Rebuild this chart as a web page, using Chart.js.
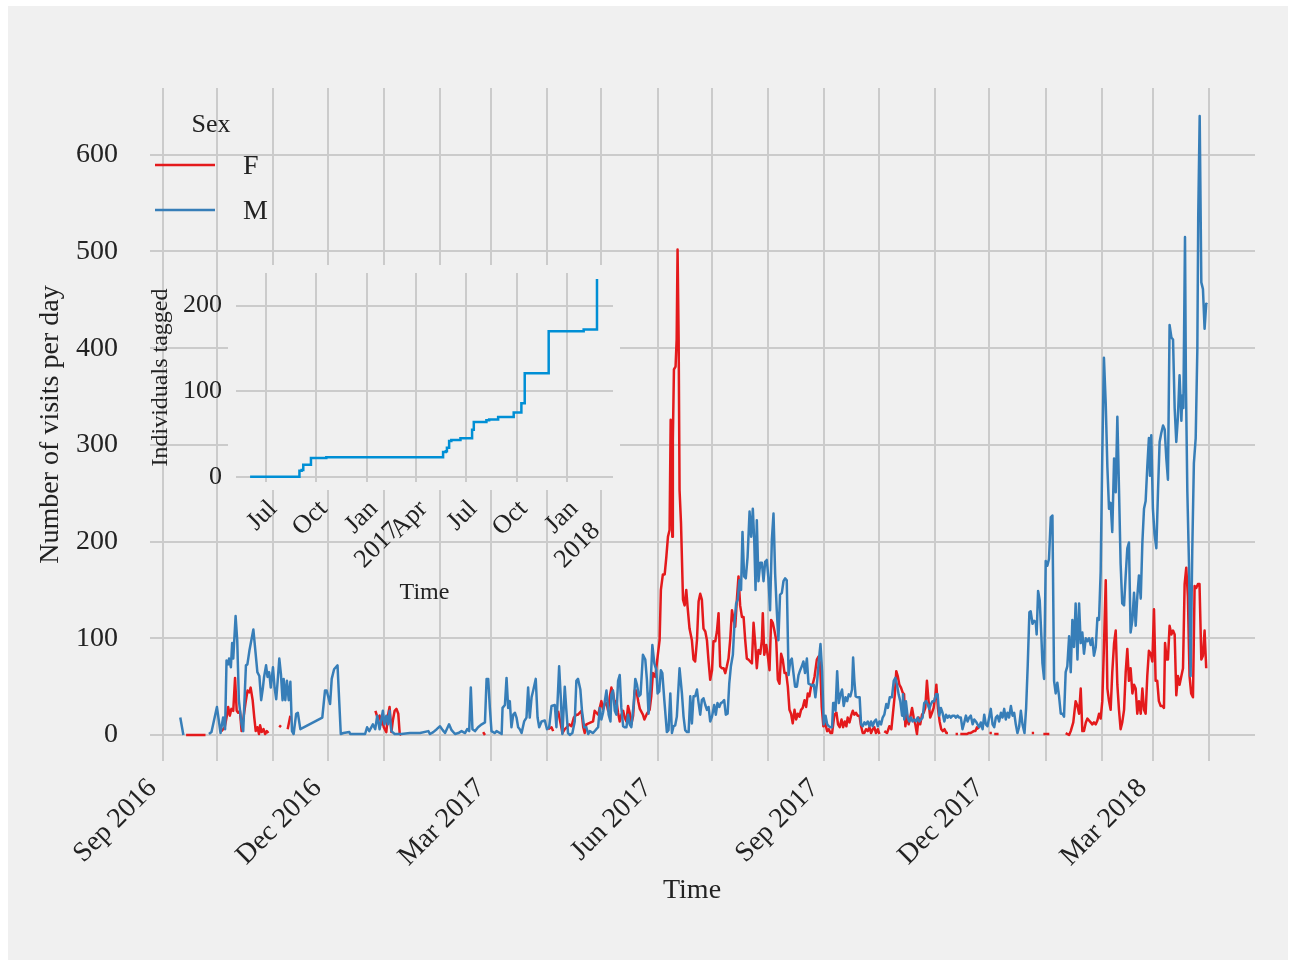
<!DOCTYPE html>
<html>
<head>
<meta charset="utf-8">
<script src="https://cdn.jsdelivr.net/npm/chart.js@4.4.1/dist/chart.umd.min.js"></script>
<style>
  html, body { margin: 0; padding: 0; background: #ffffff; }
  #frame { position: absolute; left: 8px; top: 6px; width: 1280px; height: 954px; background: #f0f0f0; }
  #mainChart { position: absolute; left: 0; top: 0; }
  #insetChart { position: absolute; left: 124px; top: 237px; }
</style>
</head>
<body>
<div id="frame">
  <canvas id="mainChart" width="1280" height="954"></canvas>
  <canvas id="insetChart" width="500" height="370"></canvas>
</div>
<script>
// x values are days since 1 Sep 2016, null = no record that day
const visitsF = [
  [13,0],[23.7,0],[28,null],[32.5,4],[34.3,8],[35.3,18],[36.2,29],[37.1,20],[38,27],[39,25],[40,59],[40.9,25],[41.7,23],[42.7,25],[43.6,4],
  [46,36],[46.9,46],[47.9,44],[48.6,49],[49.7,36],[50.6,18],[51.4,4],[52.3,8],[53.2,1],[53.8,10],[54.7,3],[55.7,6],[56.6,1],[57.5,4],[58.4,2],
  [61,null],[64.4,8],[65.3,10],[67,null],[69,6],[70.5,20],[90,null],
  [117.4,25],[118.7,17],[119.7,20],[120.6,11],[121,18],[122,8],[123.4,3],[124.3,20],[125.2,29],[126.2,3],[127,15],[128,25],[129,27],[130,22],[130.8,1],[131.7,0],
  [150,null],[176.8,3],[177.8,0],[190,null],[212.6,6],[214.5,8],[215.4,4],[217,null],
  [218.1,25],[219.4,13],[220.5,2],[221.8,6],[223,8],[224.3,11],[225.5,9],[226.8,18],[228.2,21],[229.1,21],[230,23],[231,25],[232,8],[232.8,2],[233.7,11],
  [237.4,14],[238.3,25],[239.2,23],[240.2,21],[241.1,28],[242,35],[242.9,27],[243.8,32],[244.8,33],[245.7,25],[246.6,39],[247.5,49],[248.4,44],[249.4,32],
  [250.3,35],[251.2,23],[252.1,14],[253,21],[254,25],[254.8,18],[255.8,14],[256.7,30],[257.6,23],[258.5,11],[259.5,20],[260.4,46],[261.3,46],[262.3,35],
  [263.2,27],[264.9,21],[265.7,16],[267.1,22],[268.6,26],[269.5,40],[270.4,64],[271.7,60],[273,81],[274.1,98],[274.8,150],[275.9,166],[276.9,166],
  [277.8,184],[278.7,205],[279.6,212],[280.2,326],[280.7,257],[281.1,205],[281.4,305],[282,378],[282.9,381],[283.5,409],[284,502],[284.6,409],
  [285.1,253],[285.9,219],[287,140],[287.9,134],[288.8,150],[289.5,133],[290.6,110],[291.9,98],[292.8,78],[293.7,76],[294.7,98],[295.6,138],
  [296.5,146],[297.4,140],[298.3,110],[299.3,107],[300.2,98],[301.1,76],[302,57],[303,67],[303.8,97],[304.8,97],[305.7,107],[306.6,126],[307.5,71],
  [308.4,69],[309.4,69],[310.3,64],[311.2,71],[312.1,79],[313,98],[314,129],[314.9,119],[315.8,112],[316.7,140],[317.6,164],[318.5,134],[319.5,122],
  [320.4,122],[321.3,98],[322.2,79],[323.1,78],[324,76],[325,74],[325.9,116],[326.8,95],[327.7,69],[328.6,88],[329.6,84],[330.5,98],[331,126],
  [331.8,83],[332.9,93],[333.8,81],[334.7,67],[335.6,119],[336.5,116],[337.5,107],[338.4,98],[339.3,57],[340.2,53],[341.1,84],[342,78],[343,64],
  [343.9,64],[344.8,50],[345.7,26],[346.6,22],[347.5,12],[348.5,26],[349.4,16],[350.3,22],[351.2,19],[352.1,26],[353,28],[354,36],[354.9,29],
  [355.8,43],[356.7,40],[357.6,50],[358.6,53],[359.5,60],[360.8,78],[361.7,81],[362.6,74],[363.5,29],[364.4,9],[365.4,12],[366.5,4],[367.4,6],
  [368.3,2],[369.2,2],[370.5,21],[371.6,23],[372.5,11],[373.4,8],[374.4,16],[375.3,8],[376.2,14],[377.1,9],[377.8,18],[378.8,13],[379.7,20],
  [380.6,25],[381.5,21],[382.4,23],[383.3,20],[384.3,20],[385.2,9],[386.1,2],[387,2],[387.9,6],[388.9,4],[389.8,8],[390.7,2],[391.6,6],[392.5,8],
  [393.4,2],[394.4,6],[395.3,1],[396.5,null],[398,4],[399.5,2],[400.8,9],[401.9,6],[402.8,23],[403.8,42],[404.6,66],[405.4,61],[406.3,52],[407.2,49],
  [408.1,44],[408.9,42],[409.6,9],[410.5,21],[411.4,11],[412.3,18],[413.3,28],[414.2,18],[415.1,11],[416,1],[416.9,18],[417.8,11],[418.8,21],
  [419.7,23],[420.6,28],[421.5,56],[422.4,35],[423.3,18],[424.3,23],[425.2,28],[426.1,40],[426.7,52],[427.6,27],[428.5,14],[429.4,6],[430.3,4],
  [431.2,6],[432.2,2],[433.1,2],[435,null],[437.3,1],[438.6,1],[439.2,null],[439.9,1],[442.7,1],[443.6,1],[444.5,2],[445.4,2],[446.4,3],[447.3,4],
  [448.2,4],[449.1,8],[450,6],[452,null],[456,2],[457.3,2],[458,null],[458.6,1],[461,1],[470,null],[479.3,2],[480.6,2],[483,null],[485.7,1],[489,1],
  [493,null],[498,2],[499.9,0],[500.8,4],[502.2,13],[503.5,35],[504.5,30],[505.4,22],[506.3,48],[507.2,4],[508.1,4],[509.1,13],[510,17],[510.9,15],
  [511.8,13],[512.7,11],[513.6,13],[514.6,11],[515.5,15],[516.4,22],[517.3,17],[518.2,35],[519.1,91],[520.1,160],[521,48],[521.9,35],[522.8,26],
  [523.7,65],[524.7,95],[525.6,108],[526.5,52],[527.4,26],[528.3,6],[529.2,13],[530.2,26],[531.1,65],[532,89],[532.9,56],[533.8,69],[534.8,43],
  [535.7,52],[536.6,48],[537.5,22],[538.4,35],[539.4,22],[540.3,48],[541.2,26],[542.1,22],[543,61],[543.9,87],[544.9,84],[545.8,76],[546.7,130],
  [547.6,56],[548.5,56],[549.4,35],[550.4,30],[551.3,30],[552.2,28],[552.8,95],[553.7,78],[554.4,78],[555.3,113],[556.3,104],[557.2,108],[558.1,104],
  [559,41],[559.9,61],[560.8,52],[561.8,61],[562.7,69],[563.6,156],[564.5,173],[565.4,143],[566.3,61],[567.2,43],[568.2,39],[569.1,154],[570,152],
  [570.9,156],[571.8,156],[572.8,78],[573.7,82],[574.6,108],[575.5,69]
];

const visitsM = [
  [9.8,18],[11.5,0],[18,null],[25.6,1],[27,3],[30,29],[32,2],[33.4,18],[34.5,6],[35.3,77],[36.2,73],[36.7,79],[37.7,70],[38.4,95],[39,79],[40.3,123],
  [41.2,98],[42.1,36],[43.6,11],[44.5,4],[46,72],[46.8,73],[47.9,87],[50.1,109],[51,91],[52.3,65],[53.4,61],[54.4,36],[55.3,48],[56,60],[57.1,72],
  [57.9,60],[58.8,65],[59.7,49],[60.9,70],[61.8,49],[62.7,37],[63.5,56],[64.4,79],[65.3,63],[66.2,36],[66.8,58],[67.7,36],[68.6,56],[69.6,36],
  [70.5,55],[71.4,4],[72.3,1],[73.7,22],[74.6,23],[76,6],[88.1,18],[89.6,46],[90.5,46],[92.4,32],[93.3,58],[94.6,68],[96.5,72],[98.3,1],[99.8,2],
  [103,3],[103.5,1],[111.7,1],[112.8,8],[114,4],[116,11],[117.3,6],[118.4,20],[119.7,6],[120.6,15],[121.5,25],[122.4,11],[123.4,20],[124.3,11],
  [125.2,25],[126.2,4],[128,1],[131.7,1],[136.4,2],[142,2],[146.6,4],[147.5,1],[149.3,3],[151.2,6],[153,9],[154.5,5],[155.8,2],[158,11],[159.4,5],
  [161.3,1],[163.1,2],[164.9,4],[166.8,2],[168,6],[169.1,4],[170,49],[170.9,6],[172.3,4],[174,8],[176,11],[177.8,13],[178.7,58],[179.6,58],[180.5,28],
  [181.4,4],[183.3,2],[184.2,4],[187,1],[187.5,28],[188.8,31],[189.7,59],[190.6,28],[191.5,35],[192.4,8],[193.4,21],[194.3,23],[195.2,18],[196.1,8],
  [197,6],[198,2],[199.4,14],[200.7,18],[201.6,49],[202.5,18],[203.5,39],[204.4,46],[205.8,58],[206.8,18],[207.7,8],[209,14],[210.8,15],[212,6],
  [213.2,8],[214.5,30],[216.3,31],[217.2,8],[218.7,71],[219.6,39],[220.5,1],[221.8,50],[222.7,25],[223.6,2],[224.6,0],[226,2],[227.3,14],[228.2,56],
  [229.1,58],[230.4,47],[231.3,25],[232.5,8],[233.7,8],[234.7,1],[235.6,4],[237.4,2],[239.2,6],[240.2,8],[241.1,28],[242,16],[242.9,23],[244.8,46],
  [246,21],[247,14],[247.5,42],[248.4,46],[249.4,25],[250.3,21],[251.2,56],[252.1,62],[253,28],[254,9],[254.8,8],[255.8,8],[256.7,21],[257.6,11],
  [258.5,8],[259.8,32],[260.7,58],[261.6,52],[262.7,40],[263.6,42],[264.9,83],[266.2,78],[267.1,57],[268,22],[269,47],[270.1,93],[271.2,74],
  [272.3,67],[273,43],[273.9,45],[274.8,67],[275.6,64],[276.7,36],[278.1,3],[279,5],[280,43],[280.9,2],[281.8,9],[282.7,10],[283.6,19],[285.1,69],
  [286.4,43],[287.3,19],[288.2,5],[289.2,3],[290.1,3],[291,40],[291.9,12],[292.8,40],[293.7,40],[294.7,47],[295.6,33],[296.5,21],[297.4,36],
  [298.3,38],[299.3,31],[300.2,26],[301.1,29],[302,14],[303,19],[304.2,31],[305.1,21],[306,33],[307,29],[307.9,33],[308.8,34],[309.7,36],[310.6,21],
  [311.6,22],[312.5,53],[313.4,71],[314.5,83],[315.4,116],[316.3,136],[317.2,140],[318.1,160],[319,150],[319.8,210],[320.7,164],[321.6,162],
  [322.6,184],[323.7,231],[324.6,205],[325.5,234],[326.3,200],[327,150],[327.7,222],[328.6,159],[329.6,178],[330.5,178],[331.4,159],[332.3,179],
  [333.2,181],[334.1,162],[335,129],[336,202],[336.9,229],[337.8,167],[338.7,129],[339.6,98],[340.5,145],[341.5,147],[342.4,159],[343.3,162],
  [344.2,160],[345.2,62],[346.1,76],[347,79],[347.9,64],[348.8,50],[349.8,50],[350.7,62],[351.6,67],[352.5,71],[353.4,76],[354.3,64],[355.3,79],
  [356.2,53],[357.3,52],[358.2,51],[359.1,52],[360,39],[361,56],[361.9,77],[362.8,94],[363.7,66],[364.6,11],[365.6,20],[366.5,11],[367.4,9],
  [368.3,8],[369.2,8],[369.8,33],[370.5,33],[371.1,25],[372,66],[372.9,33],[373.8,42],[374.7,47],[375.6,30],[376.6,39],[377.5,35],[378.4,42],
  [379.3,40],[380.2,47],[380.8,80],[381.5,56],[382.2,40],[383.3,39],[384.4,39],[385.2,11],[386.1,9],[387,13],[387.9,11],[388.9,14],[389.8,9],
  [390.7,14],[391.6,9],[392.5,14],[393.4,16],[394.4,9],[395.3,14],[396.2,11],[397.1,18],[398,21],[399.1,32],[400,28],[401,39],[402.2,39],[403.2,56],
  [404.1,59],[405,52],[405.9,42],[406.8,35],[407.8,20],[408.3,42],[409,16],[409.9,35],[410.9,18],[411.8,14],[412.7,18],[413.6,14],[414.5,16],
  [415.5,14],[416.4,18],[417.3,14],[418.2,16],[419.1,18],[420,33],[421,35],[421.9,32],[422.8,27],[423.7,32],[424.6,35],[425.5,35],[426.5,42],
  [427.4,42],[428.3,20],[429.2,28],[430.1,23],[431.1,14],[432,21],[432.9,18],[433.8,20],[434.7,18],[435.6,20],[436.6,20],[437.5,18],[438.4,20],
  [439.3,18],[440.2,18],[441.1,6],[442.1,13],[443,20],[443.9,14],[444.8,18],[445.7,20],[446.7,11],[447.6,16],[448.5,14],[449.4,11],[450.3,8],
  [451.2,13],[452.2,6],[453.1,21],[454,11],[454.9,9],[455.8,18],[456.7,27],[457.7,11],[458.6,8],[459.5,18],[460.4,20],[461.3,14],[462.3,23],
  [463.2,18],[464.1,27],[465,16],[465.9,23],[466.8,18],[467.8,30],[468.7,20],[469.6,23],[470.5,11],[471.4,2],[472.3,8],[473.3,25],[474.2,11],
  [475.3,2],[476.2,28],[477.1,73],[478,127],[478.7,128],[479.7,115],[480.6,118],[481.5,117],[482,104],[482.8,149],[483.7,139],[484.6,102],[485.2,74],
  [486.1,58],[487,180],[487.9,175],[488.8,182],[489.8,225],[490.7,227],[491.6,56],[492.5,43],[493.4,54],[494.3,41],[495.3,22],[496.2,22],[497.1,19],
  [498,65],[498.9,71],[499.9,102],[500.8,65],[501.7,119],[502.6,91],[503.5,136],[504.5,78],[505.4,136],[506.3,95],[507.2,106],[508.1,84],[509.1,100],
  [510,97],[510.9,100],[511.8,93],[512.7,100],[513.6,82],[514.6,91],[515.5,121],[516.4,119],[517.3,169],[518.2,290],[519.1,390],[520.1,342],
  [521,277],[521.9,234],[522.8,240],[523.7,210],[524.7,286],[525.6,251],[526.5,329],[527.4,255],[528.3,177],[529.2,136],[530.2,134],[531.1,165],
  [532,193],[532.9,199],[533.8,106],[534.8,119],[535.7,147],[536.6,113],[537.5,143],[538.4,165],[539.4,141],[540.3,199],[541.2,234],[542.1,242],
  [543,277],[543.9,307],[544.5,268],[545.2,310],[546.1,234],[547,208],[548,193],[548.9,251],[549.8,303],[550.7,312],[551.7,320],[552.6,316],
  [553.5,286],[554.4,264],[555.3,424],[556.3,411],[557.2,409],[558.1,338],[559,303],[559.9,329],[560.8,372],[561.8,325],[562.3,351],[562.9,338],
  [563.8,515],[564.3,364],[565.1,251],[566,177],[566.9,61],[567.8,190],[568.7,281],[569.7,307],[570.6,398],[571.1,537],[571.9,640],[572.8,468],
  [573.7,461],[574.6,420],[575.5,446],[576.1,445]
];

// cumulative number of tagged birds, step changes (days since 1 Sep 2016)
const taggedSteps = [
  [-91,0],[-1,7],[3,8],[6,14],[20,22],[48,23],[258,23],[261,29],[266,30],[268,34],[272,42],[276,43],[292.7,45],
  [313.9,55],[317,64],[340,66],[345,67],[361.4,70],[389.8,75],[403.8,86],[409.9,121],[453.6,170],[517.4,172],[541.7,231]
];

const visitTicks = [0, 100, 200, 300, 400, 500, 600];
const taggedTicks = [0, 100, 200];
const mainMonths = ['2016-09','2016-10','2016-11','2016-12','2017-01','2017-02','2017-03','2017-04','2017-05','2017-06',
                    '2017-07','2017-08','2017-09','2017-10','2017-11','2017-12','2018-01','2018-02','2018-03','2018-04'];
const mainMonthLabels = ['Sep 2016','','','Dec 2016','','','Mar 2017','','','Jun 2017',
                         '','','Sep 2017','','','Dec 2017','','','Mar 2018',''];
const insetMonths = ['2016-07','2016-10','2017-01','2017-04','2017-07','2017-10','2018-01'];
const insetMonthLabels = ['Jul', 'Oct', ['Jan', '2017'], 'Apr', 'Jul', 'Oct', ['Jan', '2018']];

const FONT = "'Liberation Serif', 'Times New Roman', serif";
const INK = '#222222';
const GRID = '#cbcbcb';
const COLOR_F = '#e41a1c';
const COLOR_M = '#377eb8';

Chart.defaults.font.family = FONT;
Chart.defaults.color = INK;

function dayOf(ym) {
    const [y, m] = ym.split('-').map(Number);
    return (Date.UTC(y, m - 1, 1) - Date.UTC(2016, 8, 1)) / 864e5;
}
const toPoints = rows => rows.map(r => ({ x: r[0], y: r[1] }));

// legend in the top left corner of the plot, like the matplotlib one
const sexLegend = {
    id: 'sexLegend',
    afterDraw(chart) {
        const ctx = chart.ctx;
        ctx.save();
        ctx.fillStyle = INK;
        ctx.textBaseline = 'middle';
        ctx.textAlign = 'center';
        ctx.font = '26px ' + FONT;
        ctx.fillText('Sex', 203, 119);
        ctx.textAlign = 'left';
        ctx.font = '28px ' + FONT;
        chart.data.datasets.forEach((ds, i) => {
            const y = 159 + i * 45;
            ctx.strokeStyle = ds.borderColor;
            ctx.lineWidth = 2.5;
            ctx.beginPath();
            ctx.moveTo(147, y);
            ctx.lineTo(207, y);
            ctx.stroke();
            ctx.fillText(ds.label, 235, y + 2);
        });
        ctx.restore();
    }
};

// inset axes background hides the main grid behind it
const insetBackground = {
    id: 'insetBackground',
    beforeDraw(chart) {
        const a = chart.chartArea;
        const ctx = chart.ctx;
        ctx.save();
        ctx.fillStyle = '#f0f0f0';
        ctx.fillRect(a.left - 8, a.top - 8, a.right - a.left + 15, a.bottom - a.top + 16);
        ctx.restore();
    }
};

new Chart(document.getElementById('mainChart'), {
    type: 'line',
    data: {
        datasets: [
            { label: 'F', data: toPoints(visitsF), borderColor: COLOR_F, order: 2 },
            { label: 'M', data: toPoints(visitsM), borderColor: COLOR_M, order: 1 }
        ]
    },
    options: {
        responsive: false,
        animation: false,
        spanGaps: false,
        layout: { padding: { left: 26, top: 82, right: 33, bottom: 53 } },
        elements: {
            point: { radius: 0 },
            line: { borderWidth: 2.5, tension: 0, fill: false, borderJoinStyle: 'round' }
        },
        plugins: { legend: { display: false }, tooltip: { enabled: false } },
        scales: {
            x: {
                type: 'linear',
                min: -6.9,
                max: 602.4,
                afterBuildTicks: s => { s.ticks = mainMonths.map(m => ({ value: dayOf(m) })); },
                afterFit: s => { s.height = 146; },
                grid: { color: GRID, lineWidth: 2, drawTicks: false },
                border: { display: false },
                ticks: {
                    autoSkip: false,
                    maxRotation: 45,
                    minRotation: 45,
                    padding: 11,
                    labelOffset: -10,
                    font: { size: 28 },
                    callback: (v, i) => mainMonthLabels[i]
                },
                // trailing spaces nudge the centred title a little left, as in the original
                title: { display: true, text: 'Time   ', font: { size: 28 }, padding: 0 }
            },
            y: {
                min: -26.9,
                max: 669,
                afterBuildTicks: s => { s.ticks = visitTicks.map(v => ({ value: v })); },
                afterFit: s => { s.width = 116; },
                grid: { color: GRID, lineWidth: 2, drawTicks: false },
                border: { display: false },
                ticks: { padding: 32, font: { size: 28 } },
                title: { display: true, text: 'Number of visits per day', font: { size: 28 }, padding: 0 }
            }
        }
    },
    plugins: [sexLegend]
});

new Chart(document.getElementById('insetChart'), {
    type: 'line',
    data: {
        datasets: [{
            label: 'Individuals tagged',
            data: toPoints(taggedSteps),
            borderColor: '#008fd5',
            borderWidth: 2.5,
            stepped: 'before',
            pointRadius: 0,
            fill: false
        }]
    },
    options: {
        responsive: false,
        animation: false,
        // top padding must cover the y tick label overhang (about 30px)
        layout: { padding: { left: 14, top: 30, right: 19, bottom: 6 } },
        plugins: { legend: { display: false }, tooltip: { enabled: false } },
        scales: {
            x: {
                type: 'linear',
                min: -116.7,
                max: 570.9,
                afterBuildTicks: s => { s.ticks = insetMonths.map(m => ({ value: dayOf(m) })); },
                afterFit: s => { s.height = 125; },
                grid: { color: GRID, lineWidth: 2, drawTicks: false },
                border: { display: false },
                ticks: {
                    autoSkip: false,
                    maxRotation: 45,
                    minRotation: 45,
                    padding: 12,
                    labelOffset: 7,
                    font: { size: 26 },
                    callback: (v, i) => insetMonthLabels[i]
                },
                title: { display: true, text: 'Time', font: { size: 24 }, padding: 0 }
            },
            y: {
                min: -6,
                max: 238,
                afterBuildTicks: s => { s.ticks = taggedTicks.map(v => ({ value: v })); },
                afterFit: s => { s.width = 90; },
                grid: { color: GRID, lineWidth: 2, drawTicks: false },
                border: { display: false },
                ticks: { padding: 14, font: { size: 26 } },
                title: { display: true, text: 'Individuals tagged', font: { size: 24 }, padding: 0 }
            }
        }
    },
    plugins: [insetBackground]
});
</script>
</body>
</html>
